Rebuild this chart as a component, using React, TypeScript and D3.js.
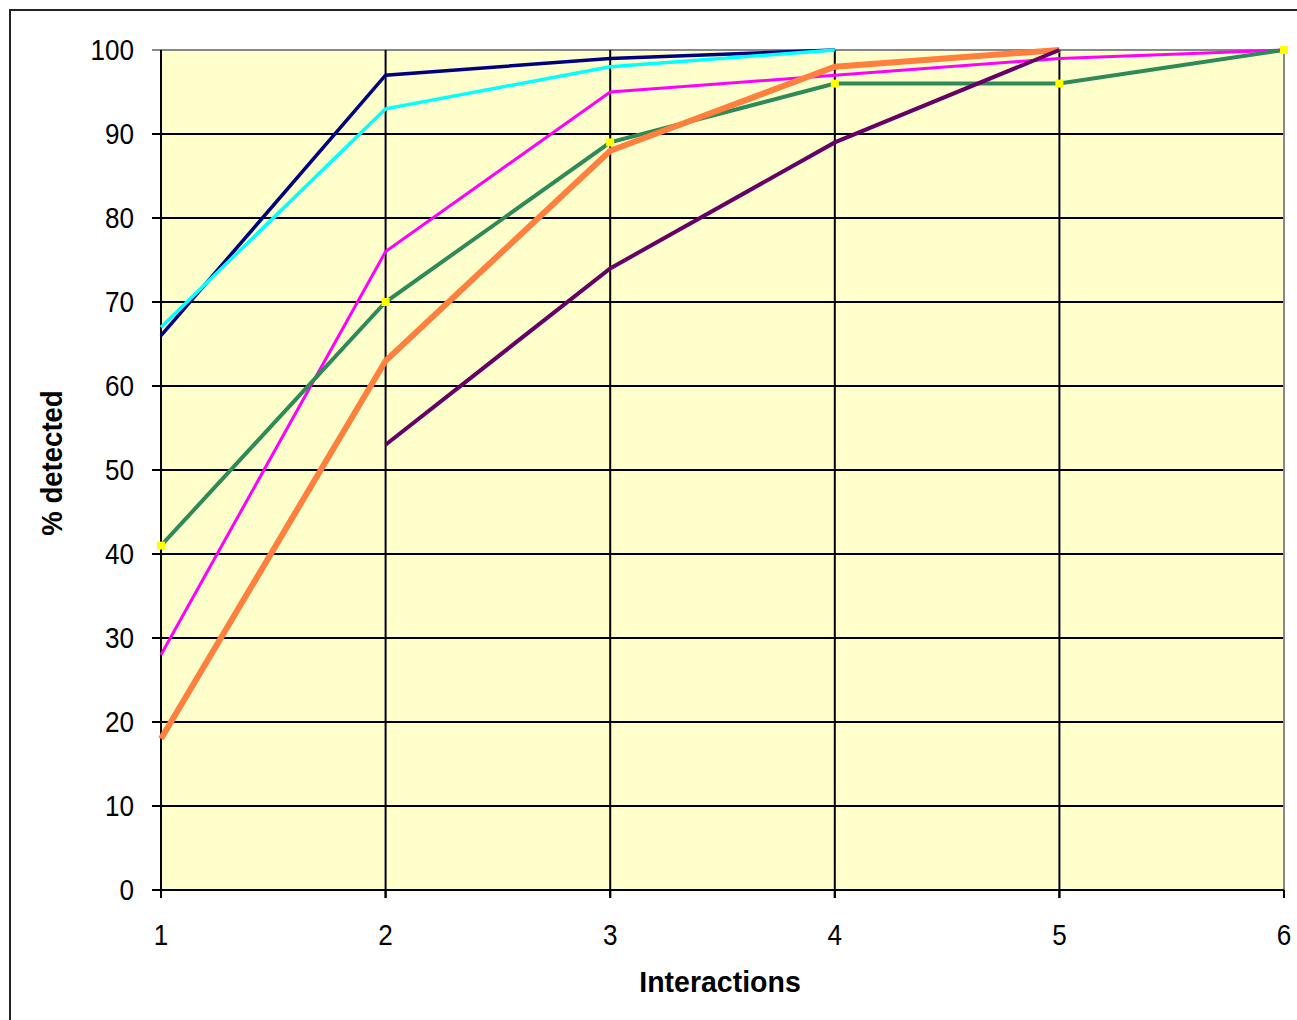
import React from "react";
import * as d3 from "d3";

const interactions = [1, 2, 3, 4, 5, 6];
const yTicks = [0, 10, 20, 30, 40, 50, 60, 70, 80, 90, 100];

const navySeries = [66, 97, 99, 100, null, null];
const cyanSeries = [67, 93, 98, 100, null, null];
const magentaSeries = [28, 76, 95, 97, 99, 100];
const greenSeries = [41, 70, 89, 96, 96, 100];
const orangeSeries = [18, 63, 88, 98, 100, null];
const purpleSeries = [null, 53, 74, 89, 100, null];

const seriesList = [
  { name: "A", values: navySeries, color: "#000080", width: 3.5, markers: false },
  { name: "B", values: cyanSeries, color: "#00FFFF", width: 3.5, markers: false },
  { name: "C", values: magentaSeries, color: "#FF00FF", width: 3, markers: false },
  { name: "D", values: greenSeries, color: "#2E8B57", width: 4, markers: true },
  { name: "E", values: orangeSeries, color: "#FF7F3F", width: 6, markers: false },
  { name: "F", values: purpleSeries, color: "#660066", width: 4, markers: false },
];

const W = 1297;
const H = 1020;
const left = 161;
const right = 1284;
const top = 50;
const bottom = 890;

export default function App() {
  const x = d3.scaleLinear().domain([1, 6]).range([left, right]);
  const y = d3.scaleLinear().domain([0, 100]).range([bottom, top]);
  const font = "'Liberation Sans', Arial, sans-serif";
  const sx = 0.9;

  const lineGen = d3
    .line<number | null>()
    .defined((d) => d !== null)
    .x((_, i) => x(interactions[i]))
    .y((d) => y(d as number));

  return (
    <svg
      width={W}
      height={H}
      style={{ position: "absolute", left: 0, top: 0, background: "#fff" }}
    >
      <rect x={10} y={10} width={W + 20} height={H + 20} fill="#fff" stroke="#222" strokeWidth={2} />
      <rect x={left} y={top} width={right - left} height={bottom - top} fill="#FFFFCC" />
      {yTicks.map((t) => (
        <g key={"y" + t}>
          <line x1={left - 9} x2={right} y1={y(t)} y2={y(t)} stroke={t === 100 ? "#888" : "#000"} strokeWidth={2} />
          <text
            transform={`translate(134,${y(t)}) scale(${sx},1)`}
            dy="0.36em"
            textAnchor="end"
            fontFamily={font}
            fontSize={29}
            fill="#000"
          >
            {t}
          </text>
        </g>
      ))}
      {interactions.map((v) => (
        <g key={"x" + v}>
          <line x1={x(v)} x2={x(v)} y1={top} y2={bottom + 8} stroke={v === 6 ? "#888" : "#000"} strokeWidth={2} />
          <line x1={x(v)} x2={x(v)} y1={bottom} y2={bottom + 8} stroke="#000" strokeWidth={2} />
          <text
            transform={`translate(${x(v)},945) scale(${sx},1)`}
            textAnchor="middle"
            fontFamily={font}
            fontSize={29}
            fill="#000"
          >
            {v}
          </text>
        </g>
      ))}
      <line x1={left} x2={left} y1={top} y2={bottom} stroke="#000" strokeWidth={2} />
      <line x1={left - 9} x2={right} y1={bottom} y2={bottom} stroke="#000" strokeWidth={2} />
      {seriesList.map((s) => (
        <g key={s.name}>
          <path d={lineGen(s.values) || ""} fill="none" stroke={s.color} strokeWidth={s.width} strokeLinejoin="miter" />
          {s.markers &&
            s.values.map((v, i) =>
              v === null ? null : (
                <rect key={i} x={x(interactions[i]) - 4} y={y(v) - 4} width={8} height={8} fill="#FFFF00" />
              )
            )}
        </g>
      ))}
      <text
        transform={`translate(720,992) scale(0.95,1)`}
        textAnchor="middle"
        fontFamily={font}
        fontSize={30}
        fontWeight="bold"
        fill="#000"
      >
        Interactions
      </text>
      <text
        transform="translate(62,463) rotate(-90) scale(0.95,1)"
        textAnchor="middle"
        fontFamily={font}
        fontSize={29}
        fontWeight="bold"
        fill="#000"
      >
        % detected
      </text>
    </svg>
  );
}
